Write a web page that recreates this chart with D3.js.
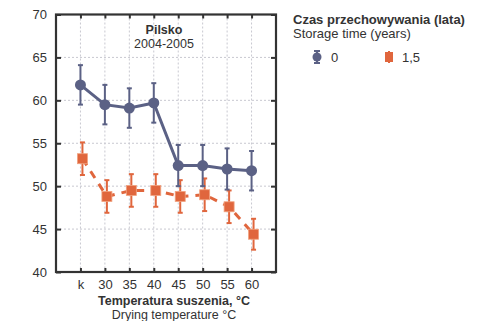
<!DOCTYPE html>
<html>
<head>
<meta charset="utf-8">
<script src="https://cdn.jsdelivr.net/npm/d3@7"></script>
<style>
  body { margin: 0; background: #fff; }
  text { font-family: "Liberation Sans", Arial, sans-serif; fill: #333; }
</style>
</head>
<body>
<div id="chart"></div>
<script>
var categories = ["k", "30", "35", "40", "45", "50", "55", "60"];
var yTicks = [40, 45, 50, 55, 60, 65, 70];
var storage0 = [61.8, 59.5, 59.1, 59.7, 52.4, 52.4, 52.0, 51.8];
var storage0Err = [2.3, 2.3, 2.3, 2.3, 2.4, 2.4, 2.4, 2.3];
var storage15 = [53.2, 48.8, 49.5, 49.5, 48.8, 49.0, 47.6, 44.4];
var storage15Err = [1.9, 1.9, 1.9, 1.9, 1.9, 1.9, 1.9, 1.8];

var blue = "#5b6185", orange = "#e0663d";

var margin = { top: 14.5, right: 208, bottom: 49, left: 56 },
    width = 484 - margin.left - margin.right,
    height = 321 - margin.top - margin.bottom;

var svg = d3.select("#chart").append("svg")
    .attr("width", 484)
    .attr("height", 321)
    .append("g")
    .attr("transform", "translate(" + margin.left + "," + margin.top + ")");

var x = d3.scalePoint()
    .domain(categories)
    .range([0, width])
    .padding(1);

var y = d3.scaleLinear()
    .domain([40, 70])
    .range([height, 0]);

// grid
svg.selectAll(".vgrid")
    .data(categories)
    .enter().append("line")
    .attr("x1", function (d) { return x(d); })
    .attr("x2", function (d) { return x(d); })
    .attr("y1", 0).attr("y2", height)
    .attr("stroke", "#c8c8d0").attr("stroke-dasharray", "2,2");

svg.selectAll(".hgrid")
    .data(yTicks.slice(1, -1))
    .enter().append("line")
    .attr("x1", 0).attr("x2", width)
    .attr("y1", function (d) { return y(d); })
    .attr("y2", function (d) { return y(d); })
    .attr("stroke", "#c8c8d0").attr("stroke-dasharray", "2,2");

// axes
var yAxis = d3.axisLeft(y).tickValues(yTicks).tickSize(-5).tickPadding(9);
var yAxisR = d3.axisRight(y).tickValues(yTicks).tickSize(-5).tickFormat("");
var xAxis = d3.axisBottom(x).tickSize(-4).tickPadding(8);
var xAxisT = d3.axisTop(x).tickSize(-4).tickFormat("");

function styleAxis(g) {
    g.select(".domain").attr("stroke", "#333").attr("stroke-width", 2.2);
    g.selectAll(".tick line").attr("stroke", "#333").attr("stroke-width", 2);
    g.selectAll(".tick text").style("font-size", "13px").attr("fill", "#444");
}

svg.append("g").call(yAxis).call(styleAxis);
svg.append("g").attr("transform", "translate(" + width + ",0)").call(yAxisR).call(styleAxis);
svg.append("g").attr("transform", "translate(0," + height + ")").call(xAxis).call(styleAxis);
svg.append("g").call(xAxisT).call(styleAxis);
svg.selectAll(".domain").attr("d", null);
svg.append("rect")
    .attr("width", width).attr("height", height)
    .attr("fill", "none").attr("stroke", "#333").attr("stroke-width", 2.2);

// orange series (offset slightly right)
var off = 2;
var d15 = storage15.map(function (v, i) { return { c: categories[i], v: v, e: storage15Err[i] }; });
var d0 = storage0.map(function (v, i) { return { c: categories[i], v: v, e: storage0Err[i] }; });

svg.append("path")
    .datum(d15)
    .attr("fill", "none")
    .attr("stroke", orange)
    .attr("stroke-width", 3)
    .attr("stroke-dasharray", "8,7")
    .attr("d", d3.line().x(function (d) { return x(d.c) + off; }).y(function (d) { return y(d.v); }));

function errorBars(data, dx, color) {
    var g = svg.append("g").attr("stroke", color).attr("stroke-width", 2);
    g.selectAll(".eb").data(data).enter().append("line")
        .attr("x1", function (d) { return x(d.c) + dx; })
        .attr("x2", function (d) { return x(d.c) + dx; })
        .attr("y1", function (d) { return y(d.v - d.e); })
        .attr("y2", function (d) { return y(d.v + d.e); });
    g.selectAll(".capt").data(data).enter().append("line")
        .attr("x1", function (d) { return x(d.c) + dx - 2.5; })
        .attr("x2", function (d) { return x(d.c) + dx + 2.5; })
        .attr("y1", function (d) { return y(d.v + d.e); })
        .attr("y2", function (d) { return y(d.v + d.e); });
    g.selectAll(".capb").data(data).enter().append("line")
        .attr("x1", function (d) { return x(d.c) + dx - 2.5; })
        .attr("x2", function (d) { return x(d.c) + dx + 2.5; })
        .attr("y1", function (d) { return y(d.v - d.e); })
        .attr("y2", function (d) { return y(d.v - d.e); });
}

errorBars(d15, off, orange);
svg.selectAll(".sq").data(d15).enter().append("rect")
    .attr("x", function (d) { return x(d.c) + off - 5; })
    .attr("y", function (d) { return y(d.v) - 5; })
    .attr("width", 10).attr("height", 10)
    .attr("fill", orange)
    .attr("stroke", "#f0a27f").attr("stroke-width", 0.8);

// blue series
svg.append("path")
    .datum(d0)
    .attr("fill", "none")
    .attr("stroke", blue)
    .attr("stroke-width", 3)
    .attr("d", d3.line().x(function (d) { return x(d.c); }).y(function (d) { return y(d.v); }));

errorBars(d0, 0, blue);
svg.selectAll(".dot").data(d0).enter().append("circle")
    .attr("cx", function (d) { return x(d.c); })
    .attr("cy", function (d) { return y(d.v); })
    .attr("r", 5.5)
    .attr("fill", blue);

// title
svg.append("text").attr("x", 108).attr("y", 19)
    .attr("text-anchor", "middle").style("font-size", "12.5px").style("font-weight", "bold")
    .text("Pilsko");
svg.append("text").attr("x", 108).attr("y", 33)
    .attr("text-anchor", "middle").style("font-size", "12.5px")
    .text("2004-2005");

// x labels
svg.append("text").attr("x", 118).attr("y", height + 32.5)
    .attr("text-anchor", "middle").style("font-size", "12.5px").style("font-weight", "bold")
    .text("Temperatura suszenia, °C");
svg.append("text").attr("x", 118).attr("y", height + 46.5)
    .attr("text-anchor", "middle").style("font-size", "12.5px")
    .text("Drying temperature °C");

// legend
var leg = d3.select("svg").append("g");
leg.append("text").attr("x", 293).attr("y", 24)
    .style("font-size", "13px").style("font-weight", "bold")
    .text("Czas przechowywania (lata)");
leg.append("text").attr("x", 293).attr("y", 38)
    .style("font-size", "13px")
    .text("Storage time (years)");

var ly = 57;
leg.append("line").attr("x1", 317).attr("x2", 317).attr("y1", ly - 6).attr("y2", ly + 6)
    .attr("stroke", blue).attr("stroke-width", 2);
leg.append("line").attr("x1", 314).attr("x2", 320).attr("y1", ly - 6).attr("y2", ly - 6)
    .attr("stroke", blue).attr("stroke-width", 2);
leg.append("line").attr("x1", 314).attr("x2", 320).attr("y1", ly + 6).attr("y2", ly + 6)
    .attr("stroke", blue).attr("stroke-width", 2);
leg.append("circle").attr("cx", 317).attr("cy", ly).attr("r", 4.5).attr("fill", blue);
leg.append("text").attr("x", 331).attr("y", ly + 5).style("font-size", "13px").text("0");

leg.append("line").attr("x1", 389).attr("x2", 389).attr("y1", ly - 6).attr("y2", ly + 6)
    .attr("stroke", orange).attr("stroke-width", 2);
leg.append("rect").attr("x", 385).attr("y", ly - 5).attr("width", 8).attr("height", 10)
    .attr("fill", orange);
leg.append("text").attr("x", 402).attr("y", ly + 5).style("font-size", "13px").text("1,5");
</script>
</body>
</html>
